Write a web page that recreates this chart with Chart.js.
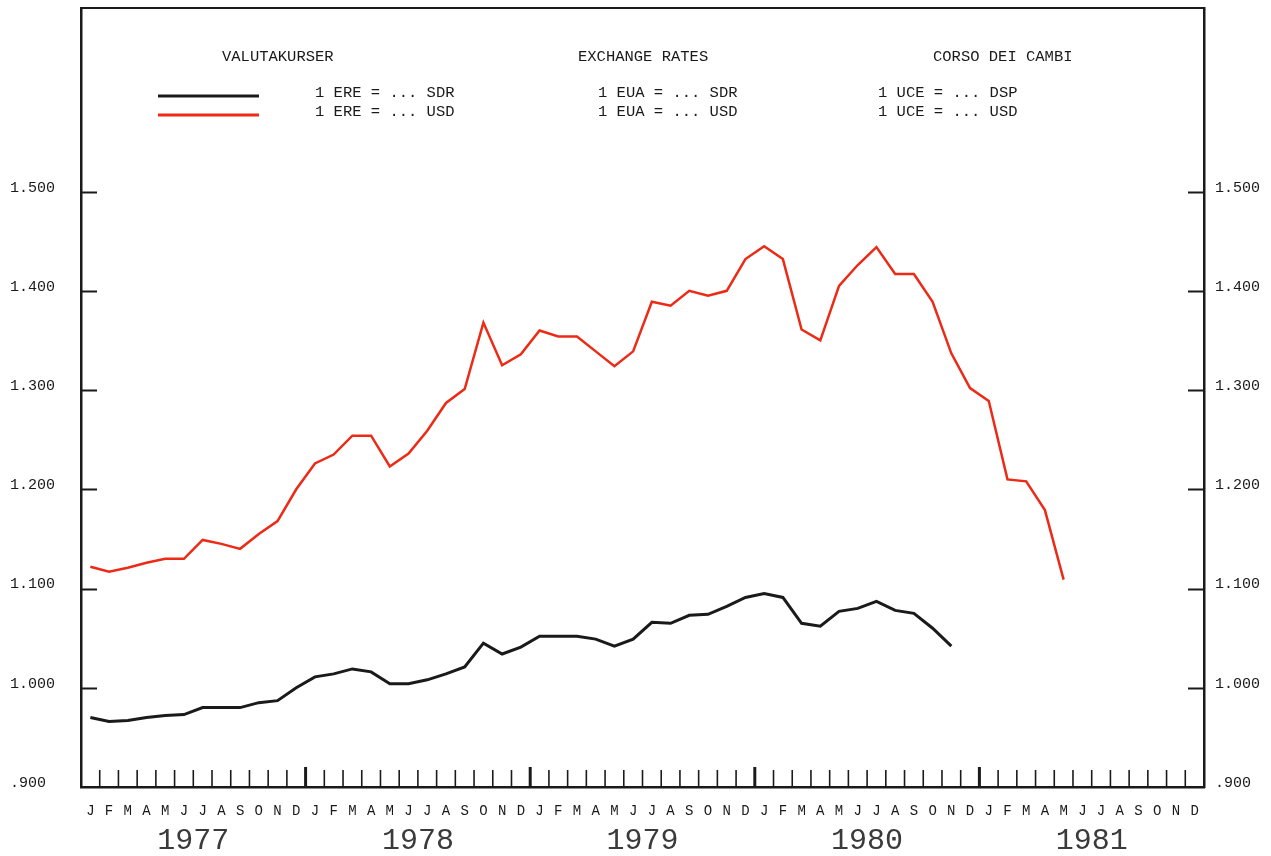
<!DOCTYPE html>
<html lang="en">
<head>
  <meta charset="UTF-8">
  <title>Valutakurser / Exchange rates / Corso dei cambi</title>
  <script src="https://cdn.jsdelivr.net/npm/chart.js"></script>
  <style>
    html, body { margin: 0; padding: 0; background: #fff; }
    #box { width: 1271px; height: 856px; }
  </style>
</head>
<body>
  <div id="box"><canvas id="myChart"></canvas></div>

  <script>
    // months J..D for 1977 - 1981
    const monthLetters = ['J', 'F', 'M', 'A', 'M', 'J', 'J', 'A', 'S', 'O', 'N', 'D'];
    const years = ['1977', '1978', '1979', '1980', '1981'];
    const months = years.flatMap(() => monthLetters);

    // y ticks (left and right)
    const yTicks = [0.9, 1.0, 1.1, 1.2, 1.3, 1.4, 1.5];

    // 1 ERE = ... SDR (black), jan 77 - nov 80
    const sdrValues = [
      0.970, 0.966, 0.967, 0.970, 0.972, 0.973, 0.980, 0.980, 0.980, 0.985, 0.987, 1.000,
      1.011, 1.014, 1.019, 1.016, 1.004, 1.004, 1.008, 1.014, 1.021, 1.045, 1.034, 1.041,
      1.052, 1.052, 1.052, 1.049, 1.042, 1.049, 1.066, 1.065, 1.073, 1.074, 1.082, 1.091,
      1.095, 1.091, 1.065, 1.062, 1.077, 1.080, 1.087, 1.078, 1.075, 1.060, 1.042
    ];

    // 1 ERE = ... USD (red), jan 77 - may 81
    const usdValues = [
      1.122, 1.117, 1.121, 1.126, 1.130, 1.130, 1.149, 1.145, 1.140, 1.155, 1.168, 1.200,
      1.226, 1.235, 1.254, 1.254, 1.223, 1.236, 1.259, 1.287, 1.301, 1.368, 1.325, 1.336,
      1.360, 1.354, 1.354, 1.339, 1.324, 1.339, 1.389, 1.385, 1.400, 1.395, 1.400, 1.432,
      1.445, 1.432, 1.361, 1.350, 1.405, 1.426, 1.444, 1.417, 1.417, 1.389, 1.337, 1.302,
      1.289, 1.210, 1.208, 1.179, 1.109
    ];

    // legend texts (da / en / it)
    const legendTitles = ['VALUTAKURSER', 'EXCHANGE RATES', 'CORSO DEI CAMBI'];
    const legendSdr = ['1 ERE = ... SDR', '1 EUA = ... SDR', '1 UCE = ... DSP'];
    const legendUsd = ['1 ERE = ... USD', '1 EUA = ... USD', '1 UCE = ... USD'];

    const FONT = '"Liberation Mono", "DejaVu Sans Mono", monospace';
    const INK = '#1a1a1a';
    const RED = '#ec2a16';

    function fmtTick(v) {
      const s = v.toFixed(3);
      return v < 1 ? s.slice(1) : s;
    }

    // frame top, inner tick marks, year labels and the legend block
    const decorations = {
      id: 'decorations',
      afterDraw(chart) {
        const ctx = chart.ctx;
        const area = chart.chartArea;
        const x = chart.scales.x;
        const yl = chart.scales.y;

        ctx.save();
        ctx.strokeStyle = INK;
        ctx.lineCap = 'butt';

        // top of the frame
        ctx.lineWidth = 2;
        ctx.beginPath();
        ctx.moveTo(area.left - 1, area.top);
        ctx.lineTo(area.right + 1, area.top);
        ctx.stroke();

        // y tick marks pointing inwards
        ctx.lineWidth = 2;
        yTicks.forEach(v => {
          if (v === yTicks[0]) return;
          const py = Math.round(yl.getPixelForValue(v)) + 0.5;
          ctx.beginPath();
          ctx.moveTo(area.left, py);
          ctx.lineTo(area.left + 16, py);
          ctx.moveTo(area.right, py);
          ctx.lineTo(area.right - 16, py);
          ctx.stroke();
        });

        // x tick marks at month boundaries, heavier at year change
        for (let i = 1; i < months.length; i++) {
          const px = (x.getPixelForValue(i - 1) + x.getPixelForValue(i)) / 2;
          const yearMark = i % 12 === 0;
          ctx.lineWidth = yearMark ? 3 : 1.6;
          ctx.beginPath();
          ctx.moveTo(px, area.bottom);
          ctx.lineTo(px, area.bottom - (yearMark ? 20 : 17));
          ctx.stroke();
        }

        // year labels under the months
        ctx.fillStyle = '#3a3a3a';
        ctx.font = '30px ' + FONT;
        ctx.textAlign = 'center';
        ctx.textBaseline = 'middle';
        years.forEach((yr, k) => {
          const cx = (x.getPixelForValue(k * 12) + x.getPixelForValue(k * 12 + 11)) / 2;
          ctx.fillText(yr, cx, 841);
        });

        // legend
        ctx.fillStyle = INK;
        ctx.font = '15.5px ' + FONT;
        ctx.textAlign = 'left';
        const titleX = [222, 578, 933];
        const rowX = [315, 598, 878];
        legendTitles.forEach((t, k) => ctx.fillText(t, titleX[k], 57));
        legendSdr.forEach((t, k) => ctx.fillText(t, rowX[k], 93));
        legendUsd.forEach((t, k) => ctx.fillText(t, rowX[k], 112));

        ctx.lineWidth = 3;
        ctx.strokeStyle = INK;
        ctx.beginPath();
        ctx.moveTo(158, 96);
        ctx.lineTo(259, 96);
        ctx.stroke();
        ctx.strokeStyle = RED;
        ctx.beginPath();
        ctx.moveTo(158, 115);
        ctx.lineTo(259, 115);
        ctx.stroke();

        ctx.restore();
      }
    };

    const yAxis = (position, width, crossAlign, padding) => ({
      type: 'linear',
      position: position,
      min: 0.9,
      max: 1.685,
      afterBuildTicks: scale => { scale.ticks = yTicks.map(v => ({ value: v })); },
      afterFit: scale => {
        scale.width = width;
        scale.paddingTop = 0;
        scale.paddingBottom = 0;
      },
      grid: { drawOnChartArea: false, drawTicks: false },
      border: { display: true, color: INK, width: 2.5 },
      ticks: {
        color: INK,
        font: { family: FONT, size: 15 },
        crossAlign: crossAlign,
        padding: padding,
        labelOffset: -4,
        callback: v => fmtTick(v)
      }
    });

    const ctx = document.getElementById('myChart').getContext('2d');
    const myChart = new Chart(ctx, {
      type: 'line',
      data: {
        labels: months,
        datasets: [
          {
            label: '1 ERE = ... USD',
            data: usdValues,
            borderColor: RED,
            borderWidth: 2.5,
            pointRadius: 0,
            tension: 0,
            fill: false,
            yAxisID: 'y'
          },
          {
            label: '1 ERE = ... SDR',
            data: sdrValues,
            borderColor: INK,
            borderWidth: 3,
            pointRadius: 0,
            tension: 0,
            fill: false,
            yAxisID: 'y'
          }
        ]
      },
      options: {
        responsive: true,
        maintainAspectRatio: false,
        animation: false,
        layout: { padding: { top: 8, left: 10, right: 0, bottom: 0 } },
        plugins: {
          legend: { display: false },
          tooltip: { enabled: false }
        },
        scales: {
          x: {
            type: 'category',
            offset: true,
            afterFit: scale => {
              scale.height = 69;
              scale.paddingLeft = 0;
              scale.paddingRight = 0;
            },
            grid: { display: true, drawOnChartArea: false, drawTicks: false, offset: true },
            border: { display: true, color: INK, width: 2.5 },
            ticks: {
              color: INK,
              font: { family: FONT, size: 14 },
              autoSkip: false,
              maxRotation: 0,
              padding: 16
            }
          },
          y: yAxis('left', 71, 'far', 10),
          y2: yAxis('right', 67, 'near', 11)
        }
      },
      plugins: [decorations]
    });
  </script>
</body>
</html>
